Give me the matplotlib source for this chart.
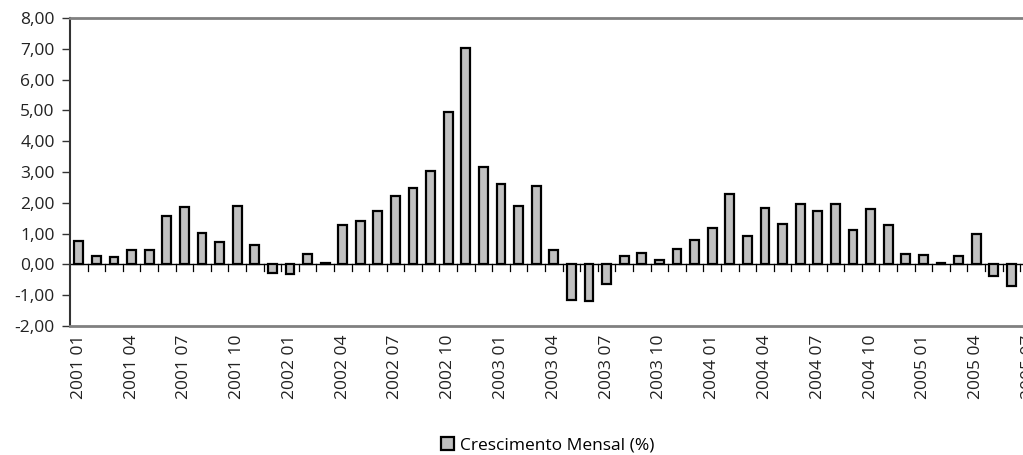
import matplotlib
matplotlib.use("Agg")
import matplotlib.pyplot as plt
from matplotlib.patches import Patch
import numpy as np

plt.rcParams["font.family"] = ["Open Sans", "DejaVu Sans"]

# months 2001 01 .. 2005 07
months = [f"{y} {m:02d}" for y in range(2001, 2006) for m in range(1, 13)][:55]

# monthly growth (%); last month falls outside the frame
growth = [
    0.77, 0.28, 0.24, 0.47, 0.47, 1.57, 1.86, 1.02, 0.72, 1.91, 0.62, -0.29,
    -0.31, 0.33, 0.03, 1.28, 1.40, 1.72, 2.21, 2.48, 3.02, 4.94, 7.03, 3.17,
    2.62, 1.90, 2.54, 0.47, -1.14, -1.20, -0.65, 0.26, 0.38, 0.15, 0.51, 0.79,
    1.18, 2.27, 0.92, 1.84, 1.30, 1.96, 1.74, 1.96, 1.11, 1.81, 1.28, 0.35,
    0.30, 0.06, 0.28, 0.99, -0.37, -0.71, np.nan,
]

series_name = "Crescimento Mensal (%)"
yticks = np.arange(-2, 9, 1)

fig = plt.figure(figsize=(10.23, 4.55), dpi=100)
ax = fig.add_axes([0.0684, 0.2835, 0.946, 0.677])

x = np.arange(len(months))
ax.bar(x, growth, width=0.5, color="#C0C0C0", edgecolor="black", linewidth=1.6, zorder=3)

ax.set_xlim(-0.5, len(months) - 0.5)
ax.set_ylim(-2, 8)
ax.set_yticks(yticks)
ax.set_yticklabels([f"{v:.2f}".replace(".", ",") for v in yticks], fontsize=12.5, color="#222222")
ax.tick_params(axis="y", direction="out", length=6, width=1, color="#333333", pad=5)

ax.set_xticks(x[::3])
ax.set_xticklabels(months[::3], rotation=90, fontsize=12.5, color="#222222")
ax.tick_params(axis="x", length=0, pad=6)

# zero line with small tick marks between categories
ax.axhline(0, color="black", linewidth=1, zorder=2)
for b in np.arange(0.5, len(months) - 0.5, 1):
    ax.plot([b, b], [0, -0.2], color="black", linewidth=0.9, zorder=2)

for side in ["top", "bottom"]:
    ax.spines[side].set_color("#808080")
    ax.spines[side].set_linewidth(2)
ax.spines["left"].set_color("#333333")
ax.spines["left"].set_linewidth(1.5)
ax.spines["right"].set_visible(False)

handle = Patch(facecolor="#C0C0C0", edgecolor="black", linewidth=1.6)
fig.legend([handle], [series_name], loc="center", bbox_to_anchor=(0.535, 0.022),
           frameon=False, fontsize=12.5, handlelength=0.8, handleheight=0.8,
           handletextpad=0.3)

fig.savefig("out.png", dpi=100)
